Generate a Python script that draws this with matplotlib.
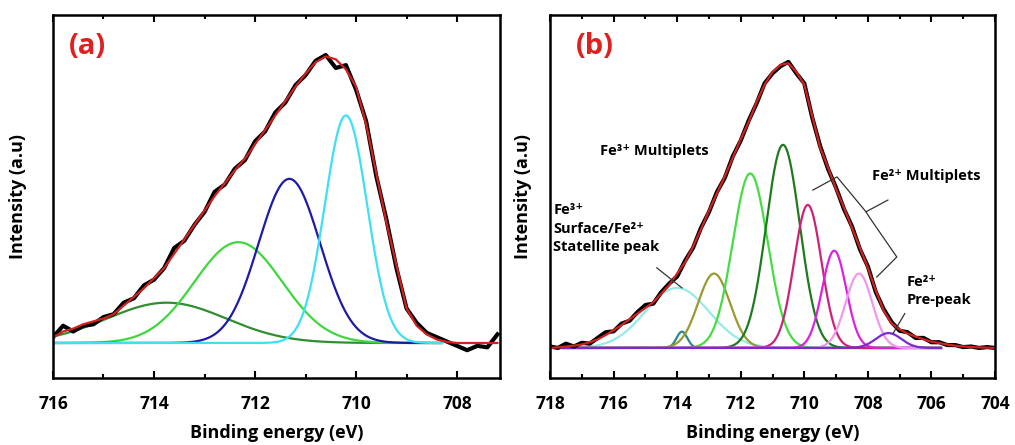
import numpy as np
import matplotlib
matplotlib.use("Agg")
import matplotlib.pyplot as plt
from matplotlib.ticker import MultipleLocator

plt.rcParams['font.family'] = ['Open Sans', 'DejaVu Sans']
plt.rcParams['font.weight'] = 'bold'

# ---- panel (a) data ----
energy_a = [716.0, 715.8, 715.6, 715.4, 715.2, 715.0, 714.8, 714.6, 714.4, 714.2,
            714.0, 713.8, 713.6, 713.4, 713.2, 713.0, 712.8, 712.6, 712.4, 712.2,
            712.0, 711.8, 711.6, 711.4, 711.2, 711.0, 710.8, 710.6, 710.4, 710.2,
            710.0, 709.8, 709.6, 709.4, 709.2, 709.0, 708.8, 708.6, 708.4, 708.2,
            708.0, 707.8, 707.6, 707.4, 707.2]
raw_a = [0.02, 0.06, 0.04, 0.06, 0.065, 0.09, 0.10, 0.14, 0.155, 0.20,
         0.22, 0.26, 0.33, 0.355, 0.41, 0.455, 0.525, 0.55, 0.605, 0.635,
         0.70, 0.735, 0.80, 0.835, 0.895, 0.93, 0.98, 1.0, 0.955, 0.965,
         0.88, 0.77, 0.58, 0.43, 0.26, 0.12, 0.07, 0.035, 0.02, 0.005,
         -0.01, -0.025, -0.01, -0.015, 0.03]
fit_a = [0.02, 0.04, 0.05, 0.065, 0.075, 0.085, 0.10, 0.13, 0.16, 0.19,
         0.225, 0.26, 0.31, 0.36, 0.41, 0.46, 0.51, 0.555, 0.60, 0.64,
         0.69, 0.74, 0.79, 0.84, 0.89, 0.935, 0.975, 0.995, 0.985, 0.95,
         0.89, 0.76, 0.59, 0.42, 0.27, 0.12, 0.06, 0.03, 0.012, 0.004,
         0.0, 0.0, 0.0, 0.0, 0.0]

peak_center_a = [713.75, 712.33, 711.32, 710.2]
peak_height_a = [0.14, 0.35, 0.57, 0.79]
peak_sigma_a = [1.18, 0.87, 0.61, 0.42]
peak_color_a = ['#2f8f2f', '#3ed83e', '#1c1ca8', '#3ee0f2']

# ---- panel (b) data ----
energy_b = [718.0, 717.75, 717.5, 717.25, 717.0, 716.75, 716.5, 716.25, 716.0, 715.75,
            715.5, 715.25, 715.0, 714.75, 714.5, 714.25, 714.0, 713.75, 713.5, 713.25,
            713.0, 712.75, 712.5, 712.25, 712.0, 711.75, 711.5, 711.25, 711.0, 710.75,
            710.5, 710.25, 710.0, 709.75, 709.5, 709.25, 709.0, 708.75, 708.5, 708.25,
            708.0, 707.75, 707.5, 707.25, 707.0, 706.75, 706.5, 706.25, 706.0, 705.75,
            705.5, 705.25, 705.0, 704.75, 704.5, 704.25, 704.0]
raw_b = [0.005, 0.0, 0.015, 0.005, 0.018, 0.015, 0.035, 0.055, 0.058, 0.085,
         0.095, 0.125, 0.15, 0.155, 0.195, 0.225, 0.25, 0.305, 0.35, 0.42,
         0.475, 0.545, 0.595, 0.67, 0.725, 0.795, 0.855, 0.925, 0.96, 0.985,
         1.0, 0.96, 0.925, 0.805, 0.705, 0.625, 0.56, 0.485, 0.425, 0.345,
         0.285, 0.195, 0.135, 0.09, 0.06, 0.055, 0.035, 0.035, 0.02, 0.02,
         0.01, 0.01, 0.003, 0.005, 0.0, 0.003, 0.0]
fit_b = [0.0, 0.002, 0.005, 0.008, 0.012, 0.02, 0.03, 0.045, 0.062, 0.08,
         0.10, 0.12, 0.14, 0.16, 0.19, 0.22, 0.26, 0.30, 0.355, 0.415,
         0.48, 0.54, 0.60, 0.665, 0.73, 0.79, 0.86, 0.92, 0.965, 0.99,
         0.995, 0.965, 0.92, 0.81, 0.70, 0.63, 0.555, 0.49, 0.42, 0.35,
         0.28, 0.20, 0.13, 0.085, 0.065, 0.05, 0.04, 0.03, 0.022, 0.017,
         0.012, 0.008, 0.005, 0.003, 0.002, 0.001, 0.0]

peak_center_b = [714.0, 713.85, 712.84, 711.7, 710.67, 709.89, 709.06, 708.28, 707.35]
peak_height_b = [0.21, 0.057, 0.26, 0.61, 0.71, 0.50, 0.34, 0.26, 0.052]
peak_sigma_b = [1.0, 0.17, 0.5, 0.55, 0.53, 0.43, 0.38, 0.42, 0.4]
peak_color_b = ['#96eaea', '#2a8a8a', '#9a9a30', '#44dd44', '#1f7a1f',
                '#cc2277', '#dd22dd', '#ee99ee', '#7a2ad0']


def draw_panel(ax, energy, raw, fit, centers, heights, sigmas, colors, comp_range):
    x = np.linspace(comp_range[0], comp_range[1], 600)
    for c, h, s, col in zip(centers, heights, sigmas, colors):
        ax.plot(x, h * np.exp(-(x - c) ** 2 / (2 * s ** 2)), color=col, lw=1.6)
    ax.plot(energy, raw, color='black', lw=3.0)
    ax.plot(energy, fit, color='#d42020', lw=1.6)
    ax.set_yticks([])
    ax.xaxis.set_major_locator(MultipleLocator(2))
    ax.xaxis.set_minor_locator(MultipleLocator(1))
    ax.tick_params(axis='x', which='both', direction='in', top=True,
                   labelsize=12.5, width=1.5)
    ax.tick_params(axis='x', which='major', length=5, pad=12)
    ax.tick_params(axis='x', which='minor', length=3)
    for sp in ax.spines.values():
        sp.set_linewidth(1.8)
    ax.set_xlabel('Binding energy (eV)', fontsize=13, fontweight='bold')
    ax.set_ylabel('Intensity (a.u)', fontsize=13, fontweight='bold')
    for lab in ax.get_xticklabels():
        lab.set_fontweight('bold')


fig = plt.figure(figsize=(10.15, 4.45), dpi=100)
ax1 = fig.add_axes([0.0522, 0.1506, 0.4404, 0.8157])
ax2 = fig.add_axes([0.5419, 0.1506, 0.4384, 0.8157])

draw_panel(ax1, energy_a, raw_a, fit_a, peak_center_a, peak_height_a,
           peak_sigma_a, peak_color_a, (716.0, 708.3))
ax1.set_xlim(716, 707.15)
ax1.set_ylim(-0.1215, 1.139)
ax1.xaxis.set_label_coords(0.5, -0.128)
ax1.yaxis.set_label_coords(-0.058, 0.5)
ax1.text(0.036, 0.912, '(a)', transform=ax1.transAxes, fontsize=21,
         fontweight='bold', color='#e02020', va='center')

draw_panel(ax2, energy_b, raw_b, fit_b, peak_center_b, peak_height_b,
           peak_sigma_b, peak_color_b, (717.6, 705.7))
ax2.set_xlim(718, 704)
ax2.set_ylim(-0.105, 1.164)
ax2.xaxis.set_label_coords(0.5, -0.128)
ax2.yaxis.set_label_coords(-0.040, 0.5)
ax2.text(0.059, 0.912, '(b)', transform=ax2.transAxes, fontsize=21,
         fontweight='bold', color='#e02020', va='center')

# annotations in (b)
ax2.text(716.43, 0.69, 'Fe³⁺ Multiplets', fontsize=10.5, fontweight='bold',
         va='center', ha='left')
ax2.text(717.9, 0.505, 'Fe³⁺\nSurface/Fe²⁺\nStatellite peak', fontsize=10.5,
         fontweight='bold', va='top', ha='left', linespacing=1.4)
ax2.plot([714.64, 713.85], [0.28, 0.21], color='#333333', lw=0.9)

ax2.text(707.87, 0.60, 'Fe²⁺ Multiplets', fontsize=10.5, fontweight='bold',
         va='center', ha='left')
brace_x = [709.73, 708.97, 708.06, 707.37]
brace_y = [0.552, 0.598, 0.476, 0.517]
ax2.plot(brace_x, brace_y, color='#333333', lw=0.9)
ax2.plot([708.06, 707.94, 707.09, 707.72], [0.476, 0.455, 0.318, 0.248],
         color='#333333', lw=0.9)

ax2.text(706.77, 0.255, 'Fe²⁺\nPre-peak', fontsize=10.5, fontweight='bold',
         va='top', ha='left', linespacing=1.4)
ax2.plot([706.84, 707.21], [0.12, 0.05], color='#333333', lw=0.9)

fig.savefig('out.png', dpi=100)
